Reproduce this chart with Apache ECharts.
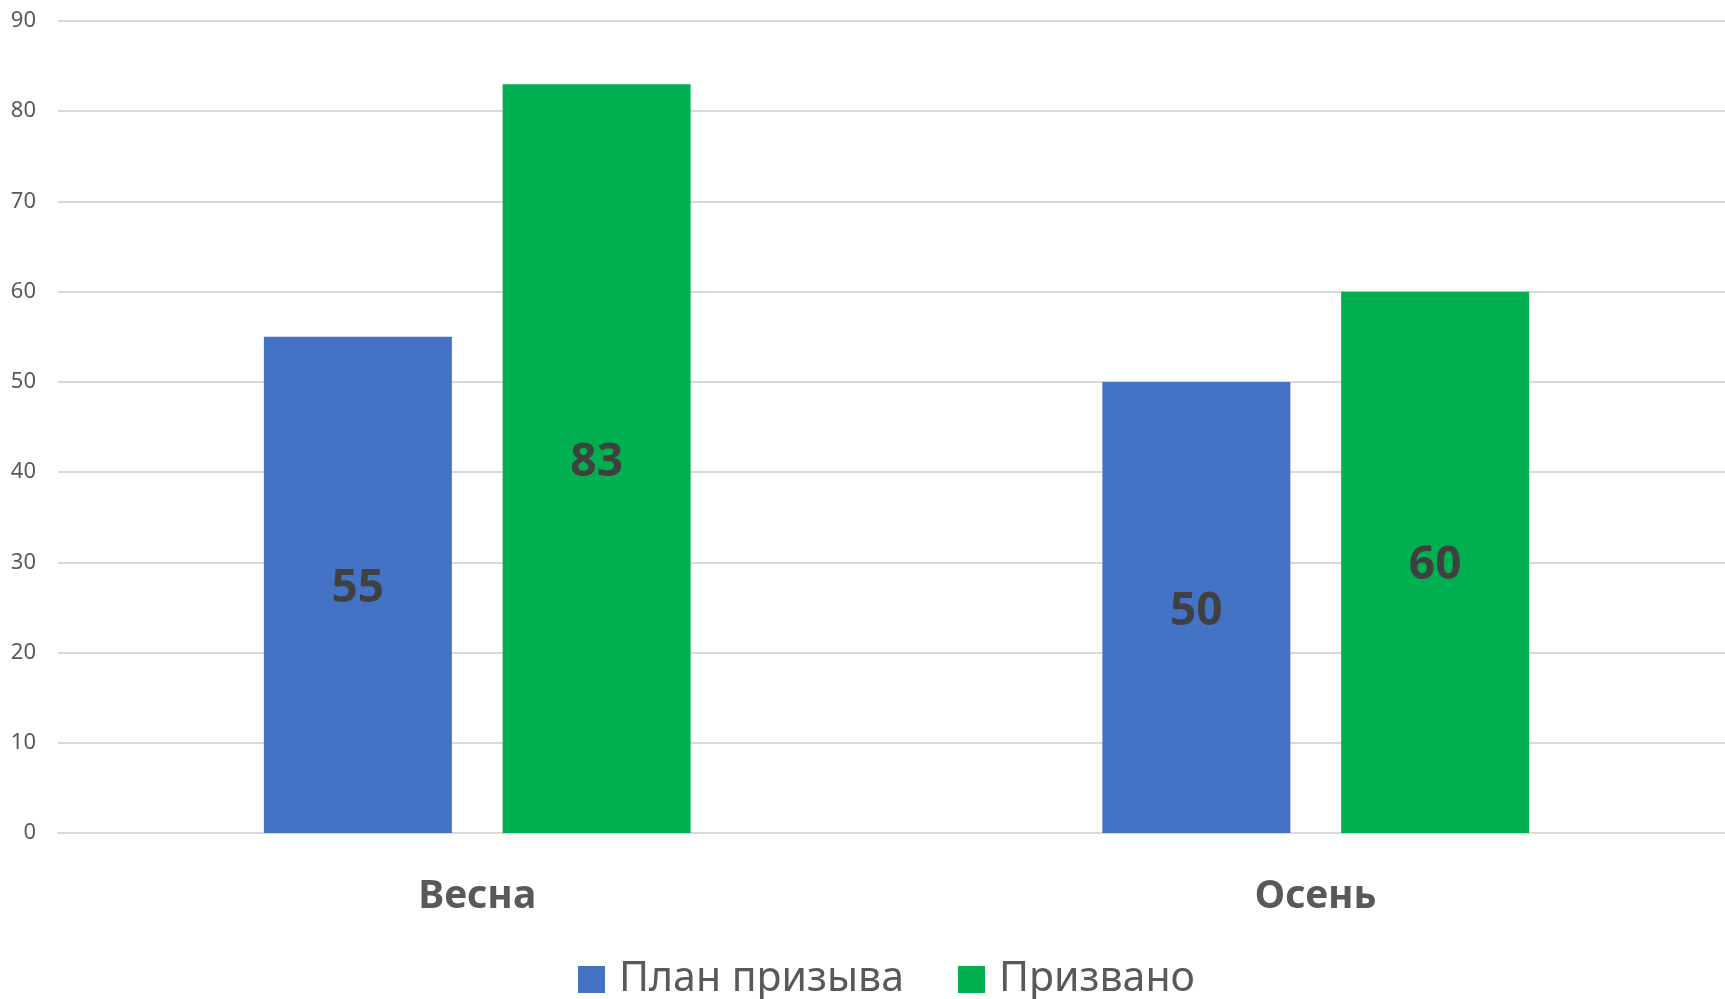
<!DOCTYPE html>
<html>
<head>
<meta charset="utf-8">
<script src="https://cdn.jsdelivr.net/npm/echarts@6/dist/echarts.min.js"></script>
<style>
  html, body { margin: 0; padding: 0; background: #fff; }
  #chart { width: 1725px; height: 999px; }
</style>
</head>
<body>
<div id="chart"></div>
<script>
// категории и значения
var categories = ["Весна", "Осень"];
var planValues = [55, 50];
var doneValues = [83, 60];
var seriesNames = ["План призыва", "Призвано"];

var chart = echarts.init(document.getElementById("chart"));
var labelStyle = {
  show: true,
  position: "inside",
  offset: [0, 4],
  fontFamily: "Noto Sans",
  fontWeight: "bold",
  fontSize: 46,
  color: "#404040"
};
chart.setOption({
  animation: false,
  textStyle: { fontFamily: "Noto Sans" },
  grid: { left: 58, width: 1677, top: 21, bottom: 166, outerBoundsMode: "none" },
  legend: {
    bottom: -6,
    left: 573,
    itemWidth: 27,
    itemHeight: 27,
    itemGap: 54,
    icon: "rect",
    textStyle: { fontSize: 41, color: "#595959", fontFamily: "Noto Sans", padding: [0, 0, 0, 9] },
    data: seriesNames
  },
  xAxis: {
    type: "category",
    data: categories,
    axisLine: { show: true, lineStyle: { color: "#d9d9d9", width: 2 } },
    axisTick: { show: false },
    axisLabel: {
      margin: 44,
      fontSize: 39,
      fontWeight: "bold",
      color: "#595959",
      fontFamily: "Noto Sans"
    }
  },
  yAxis: {
    type: "value",
    min: 0,
    max: 90,
    interval: 10,
    axisLine: { show: false },
    axisTick: { show: false },
    splitLine: { lineStyle: { color: "#d9d9d9", width: 2 } },
    axisLabel: { fontSize: 22, color: "#595959", margin: 22, fontFamily: "Noto Sans" }
  },
  series: [
    {
      name: seriesNames[0],
      type: "bar",
      data: planValues,
      barWidth: 188,
      barGap: "27%",
      itemStyle: { color: "#4472c4" },
      label: labelStyle
    },
    {
      name: seriesNames[1],
      type: "bar",
      data: doneValues,
      barWidth: 188,
      itemStyle: { color: "#00b050" },
      label: labelStyle
    }
  ]
});
</script>
</body>
</html>
